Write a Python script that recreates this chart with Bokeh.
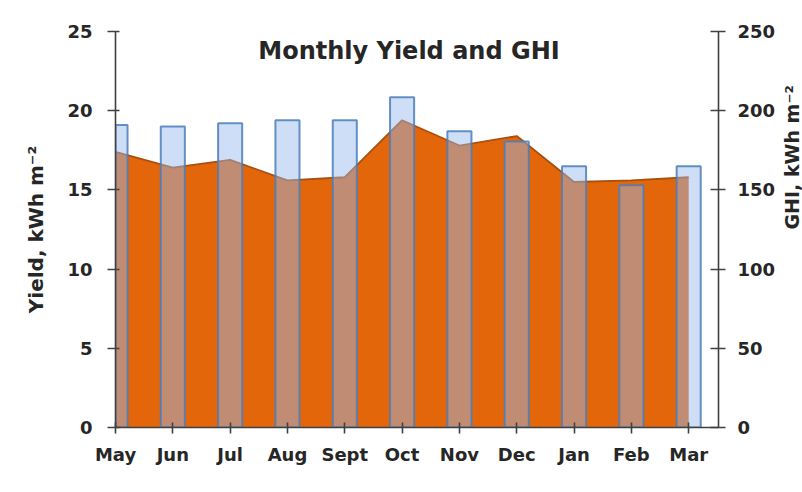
import math
from bokeh.plotting import figure
from bokeh.models import LinearAxis, Range1d, FixedTicker, Label, ColumnDataSource
from bokeh.embed import file_html
from bokeh.resources import INLINE

months = ["May", "Jun", "Jul", "Aug", "Sept", "Oct", "Nov", "Dec", "Jan", "Feb", "Mar"]
yield_kwh = [19.1, 19.0, 19.2, 19.4, 19.4, 20.85, 18.7, 18.05, 16.5, 15.3, 16.5]
ghi_kwh = [174, 164, 169, 156, 158, 194, 178, 184, 155, 156, 158]
yield_ticks = [0, 5, 10, 15, 20, 25]
ghi_ticks = [0, 50, 100, 150, 200, 250]

xs = list(range(len(months)))
src = ColumnDataSource(dict(x=xs, month=months, yld=yield_kwh, ghi=ghi_kwh))

FONT = "DejaVu Sans"
TXT = "#262626"
AX = "#404040"

p = figure(frame_width=603, frame_height=396,
           min_border_left=115, min_border_right=84, min_border_top=31, min_border_bottom=61,
           x_range=Range1d(0, 10.52), y_range=Range1d(0, 25),
           output_backend="svg", toolbar_location=None, tools="")
p.extra_y_ranges = {"ghi": Range1d(0, 250)}
p.outline_line_color = None
p.xgrid.visible = False
p.ygrid.visible = False
p.background_fill_color = "white"
p.border_fill_color = "white"

# GHI area (secondary axis)
p.varea(x="x", y1=0, y2="ghi", source=src, y_range_name="ghi",
        fill_color="#E4660A")
p.line(x="x", y="ghi", source=src, y_range_name="ghi",
       line_color="#A8500F", line_width=1.8)

# Yield bars (primary axis)
p.vbar(x="x", top="yld", width=0.42, bottom=0, source=src,
       fill_color="#96B9EB", fill_alpha=0.47,
       line_color="#4A7EBB", line_alpha=0.85, line_width=2)

def style_axis(ax, tick_in, tick_out, standoff, size="18px"):
    ax.axis_line_color = AX
    ax.axis_line_width = 1.6
    ax.major_tick_line_color = AX
    ax.major_tick_line_width = 1.6
    ax.major_tick_in = tick_in
    ax.major_tick_out = tick_out
    ax.minor_tick_line_color = None
    ax.major_label_text_font = FONT
    ax.major_label_text_font_style = "bold"
    ax.major_label_text_font_size = size
    ax.major_label_text_color = TXT
    ax.major_label_standoff = standoff
    ax.axis_label_text_font = FONT
    ax.axis_label_text_font_style = "bold"
    ax.axis_label_text_color = TXT

xax = p.xaxis[0]
xax.ticker = FixedTicker(ticks=xs)
xax.major_label_overrides = {i: m for i, m in enumerate(months)}
style_axis(xax, 5, 6, 10)

yax = p.yaxis[0]
yax.ticker = FixedTicker(ticks=yield_ticks)
style_axis(yax, 4, 8, 15)
yax.axis_label = "Yield, kWh m\u207b\u00b2"
yax.axis_label_text_font_size = "20px"
yax.axis_label_standoff = 16

rax = LinearAxis(y_range_name="ghi", ticker=FixedTicker(ticks=ghi_ticks))
style_axis(rax, 8, 7, 12)
rax.axis_label = "GHI, kWh m\u207b\u00b2"
rax.axis_label_text_font_size = "19px"
rax.axis_label_standoff = 14
rax.axis_label_orientation = math.pi / 2
p.add_layout(rax, "right")

p.add_layout(Label(x=5.12, y=23.8, text="Monthly Yield and GHI",
                   text_font=FONT, text_font_style="bold", text_font_size="24px",
                   text_color=TXT, text_align="center", text_baseline="alphabetic"))

open("out.html", "w").write(file_html(p, INLINE))
